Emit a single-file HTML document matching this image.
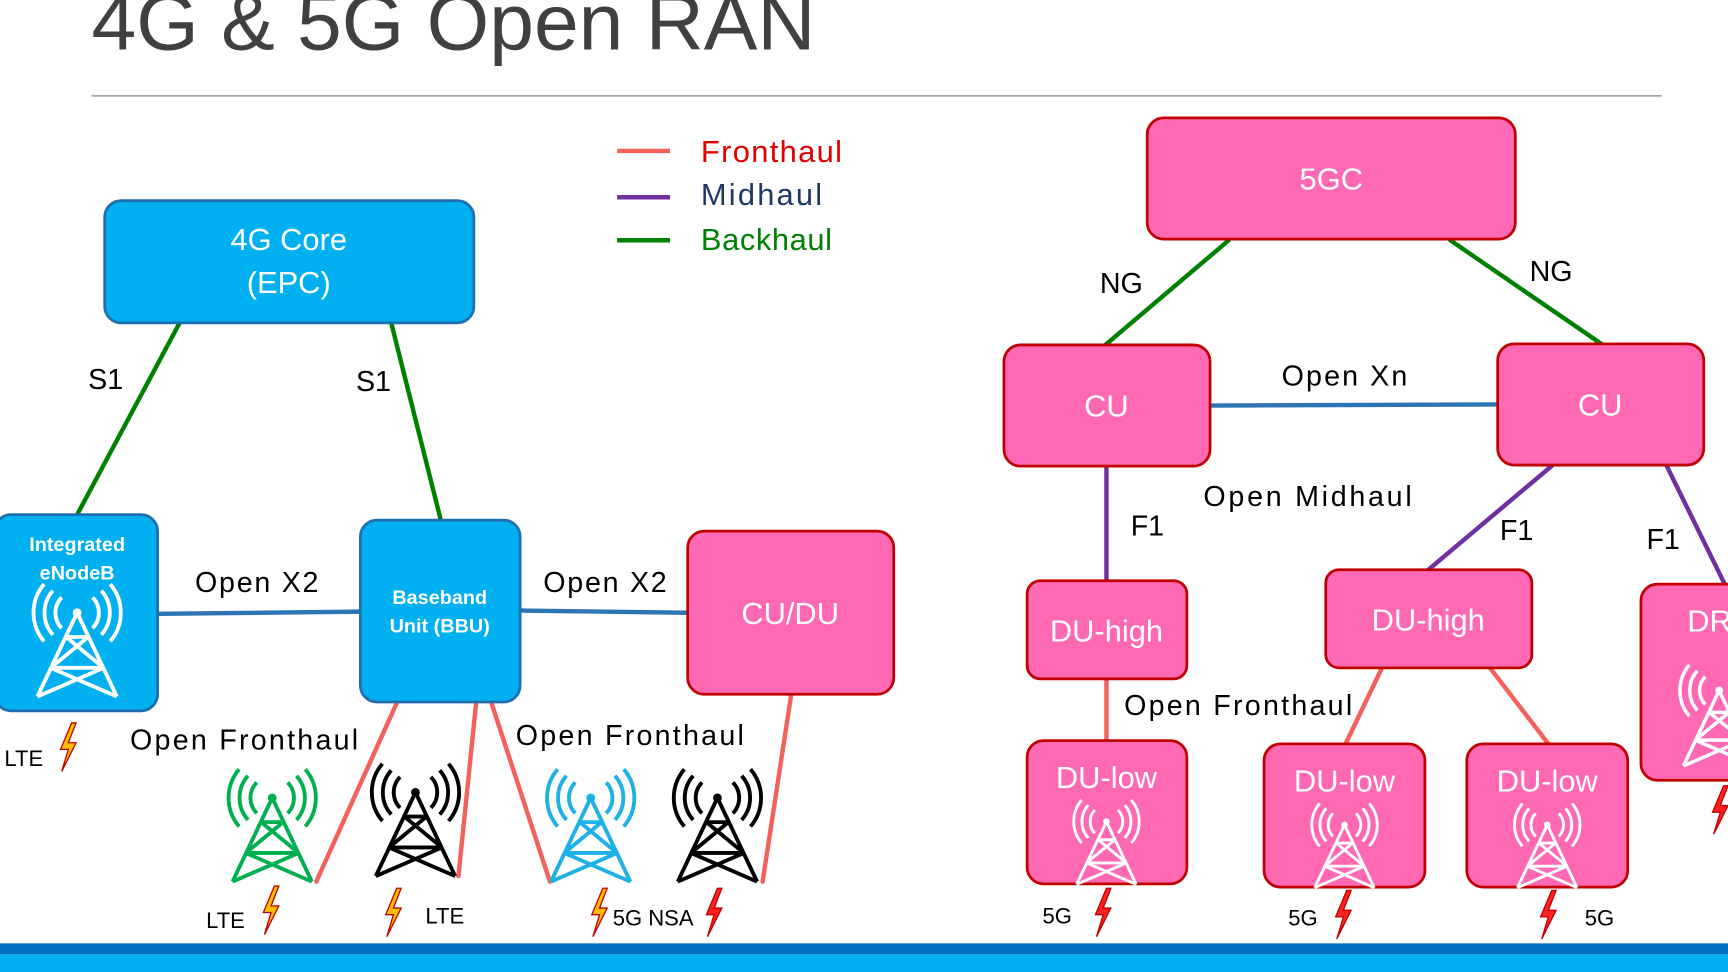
<!DOCTYPE html>
<html><head><meta charset="utf-8"><style>
html,body{margin:0;padding:0;background:#fff;}
svg{display:block;font-family:"Liberation Sans","DejaVu Sans",sans-serif;}
</style></head><body>
<svg width="1728" height="972" viewBox="0 0 1568 882" preserveAspectRatio="none">
<defs>
<g id="tw">
<path d="M-14,-40 A20,20 0 0 0 -14,-12 M14,-40 A20,20 0 0 1 14,-12 M-22,-46 A30,30 0 0 0 -22,-6 M22,-46 A30,30 0 0 1 22,-6 M-30,-52 A40,40 0 0 0 -30,0 M30,-52 A40,40 0 0 1 30,0" fill="none" stroke-width="3.5"/>
<circle cx="0" cy="-26" r="4" stroke="none"/>
<path d="M0,-26 L-36,50 M0,-26 L36,50 M-10,-4 L10,-4 M-10,-4 L24,24 M10,-4 L-24,24 M-24,24 L24,24 M-24,24 L36,50 M24,24 L-36,50" fill="none" stroke-width="3.5"/>
</g>
<polygon id="bolt" points="4,-22 -6,2 1,2 -5,22 8,-4 1,-4 8,-22" stroke="#c00000" stroke-width="1.2"/>
</defs>
<text x="83" y="45" font-size="72" fill="#404040" textLength="657" lengthAdjust="spacingAndGlyphs">4G &amp; 5G Open RAN</text>
<line x1="83" y1="87" x2="1508" y2="87" stroke="#a6a6a6" stroke-width="1.5"/>
<rect x="0" y="856" width="1568" height="10" fill="#0070c0"/>
<rect x="0" y="866" width="1568" height="16" fill="#00b0f0"/>

<g stroke-width="4"><line x1="560" y1="137" x2="608" y2="137" stroke="#f4605a"/><line x1="560" y1="179" x2="608" y2="179" stroke="#7030a0"/><line x1="560" y1="218" x2="608" y2="218" stroke="#008000"/></g>
<g font-size="28"><text x="636" y="147" fill="#e00000" textLength="128">Fronthaul</text><text x="636" y="186" fill="#1f3864" textLength="110">Midhaul</text><text x="636" y="227" fill="#008000" textLength="119">Backhaul</text></g>

<g stroke-width="4" stroke-linecap="round">
<g stroke="#008000"><line x1="163" y1="293" x2="70" y2="467"/><line x1="355" y1="293" x2="400" y2="472"/><line x1="1115" y1="218" x2="1003" y2="313"/><line x1="1316" y1="218" x2="1453" y2="312"/></g>
<g stroke="#2e75b6"><line x1="143" y1="557" x2="327" y2="555"/><line x1="472" y1="554" x2="624" y2="556"/><line x1="1098" y1="368" x2="1359" y2="367"/></g>
<g stroke="#7030a0"><line x1="1004" y1="423" x2="1004" y2="527"/><line x1="1409" y1="422" x2="1296" y2="517"/><line x1="1512" y1="422" x2="1565" y2="530"/></g>
<g stroke="#f4605a"><line x1="1004" y1="616" x2="1004" y2="672"/><line x1="1254" y1="606" x2="1221" y2="675"/><line x1="1352" y1="606" x2="1405" y2="675"/><line x1="360" y1="638" x2="287" y2="800"/><line x1="432" y1="638" x2="416" y2="795"/><line x1="446" y1="638" x2="499" y2="800"/><line x1="718" y1="630" x2="692" y2="800"/></g>
</g>

<g fill="#00b0f0" stroke="#1f6fb0" stroke-width="2.5">
<rect x="95" y="182" width="335" height="111" rx="15"/>
<rect x="-5" y="467" width="148" height="178" rx="15"/>
<rect x="327" y="472" width="145" height="165" rx="15"/>
</g>
<g fill="#ff69b4" stroke="#c00000" stroke-width="2.5">
<rect x="624" y="482" width="187" height="148" rx="15"/>
<rect x="1041" y="107" width="334" height="110" rx="15"/>
<rect x="911" y="313" width="187" height="110" rx="15"/>
<rect x="1359" y="312" width="187" height="110" rx="15"/>
<rect x="932" y="527" width="145" height="89" rx="12"/>
<rect x="1203" y="517" width="187" height="89" rx="12"/>
<rect x="932" y="672" width="145" height="130" rx="15"/>
<rect x="1147" y="675" width="146" height="130" rx="15"/>
<rect x="1331" y="675" width="146" height="130" rx="15"/>
<rect x="1489" y="530" width="100" height="178" rx="15"/>
</g>

<g fill="#fff" font-size="28" text-anchor="middle">
<text x="262" y="227">4G Core</text><text x="262" y="266">(EPC)</text>
<text x="717" y="566">CU/DU</text>
<text x="1208" y="172">5GC</text>
<text x="1004" y="378">CU</text><text x="1452" y="377">CU</text>
<text x="1004" y="582">DU-high</text><text x="1296" y="572">DU-high</text>
<text x="1004" y="715">DU-low</text><text x="1220" y="718">DU-low</text><text x="1404" y="718">DU-low</text>
<text x="1531" y="573" text-anchor="start">DR</text>
<g font-weight="bold" font-size="18"><text x="70" y="500">Integrated</text><text x="70" y="526">eNodeB</text><text x="399" y="548">Baseband</text><text x="399" y="574">Unit (BBU)</text></g>
</g>

<use href="#tw" x="70" y="582" fill="#fff" stroke="#fff"/>
<use href="#tw" x="247" y="750" fill="#00b050" stroke="#00b050"/>
<use href="#tw" x="377" y="745" fill="#000" stroke="#000"/>
<use href="#tw" x="536" y="750" fill="#1fb0e8" stroke="#1fb0e8"/>
<use href="#tw" x="651" y="750" fill="#000" stroke="#000"/>
<g transform="translate(1004,765) scale(0.75)"><use href="#tw" fill="#fff" stroke="#fff"/></g>
<g transform="translate(1220,768) scale(0.75)"><use href="#tw" fill="#fff" stroke="#fff"/></g>
<g transform="translate(1404,768) scale(0.75)"><use href="#tw" fill="#fff" stroke="#fff"/></g>
<g transform="translate(1560,650) scale(0.9)"><use href="#tw" fill="#fff" stroke="#fff"/></g>

<g fill="#ffc000"><use href="#bolt" x="61" y="678"/><use href="#bolt" x="245" y="826"/><use href="#bolt" x="356" y="828"/><use href="#bolt" x="543" y="828"/></g>
<g fill="#ff2020"><use href="#bolt" x="647" y="828"/><use href="#bolt" x="1000" y="828"/><use href="#bolt" x="1218" y="830"/><use href="#bolt" x="1404" y="830"/><use href="#bolt" x="1560" y="735"/></g>

<g font-size="26" fill="#000">
<text x="80" y="353">S1</text><text x="323" y="355">S1</text>
<text x="177" y="537" textLength="112">Open X2</text><text x="493" y="537" textLength="112">Open X2</text>
<text x="118" y="680" textLength="207">Open Fronthaul</text><text x="468" y="676" textLength="207">Open Fronthaul</text>
<text x="998" y="266">NG</text><text x="1388" y="255">NG</text>
<text x="1163" y="350" textLength="114">Open Xn</text>
<text x="1092" y="459" textLength="189">Open Midhaul</text>
<text x="1026" y="486">F1</text><text x="1361" y="490">F1</text><text x="1494" y="498">F1</text>
<text x="1020" y="649" textLength="207">Open Fronthaul</text>
</g>
<g font-size="20" fill="#000">
<text x="4" y="695">LTE</text><text x="187" y="842">LTE</text><text x="386" y="838">LTE</text><text x="556" y="840">5G NSA</text>
<text x="946" y="838">5G</text><text x="1169" y="840">5G</text><text x="1438" y="840">5G</text>
</g>
</svg>
</body></html>
